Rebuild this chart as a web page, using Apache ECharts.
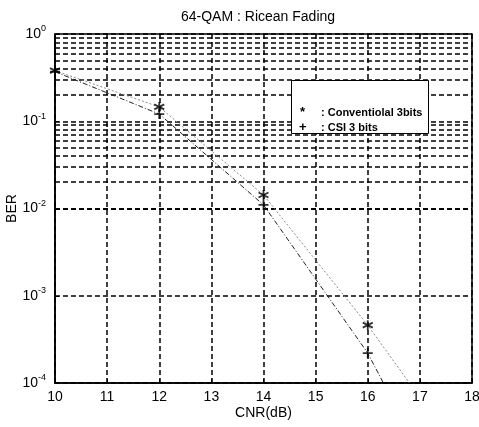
<!DOCTYPE html>
<html>
<head>
<meta charset="utf-8">
<script src="https://cdn.jsdelivr.net/npm/echarts@6/dist/echarts.min.js"></script>
<style>
  html, body { margin: 0; padding: 0; background: #fff; }
  #main { width: 479px; height: 427px; }
</style>
</head>
<body>
<div id="main"></div>
<script>
// simulated points (markers)
var cnr = [10, 12, 14, 16];
var convBer = [0.38, 0.146, 0.0143, 4.6e-4];
var csiBer = [0.37, 0.121, 0.011, 2.2e-4];
// curves (lines run on down to the bottom of the plot)
var convCurveX = [10, 12, 14, 16, 16.8];
var convCurveY = [0.38, 0.146, 0.0143, 4.6e-4, 1e-4];
var csiCurveX = [10, 12, 14, 16, 16.3];
var csiCurveY = [0.37, 0.121, 0.011, 2.2e-4, 1e-4];
// minor grid values inside each decade
var mantissas = [2, 3, 4, 5, 6, 7, 8, 9];
var decades = [1e-4, 1e-3, 1e-2, 1e-1];

function pairs(xs, ys) {
  return xs.map(function (x, i) { return [x, ys[i]]; });
}

var minorLines = [];
decades.forEach(function (d) {
  mantissas.forEach(function (m) { minorLines.push({ yAxis: m * d }); });
});

var starPath = 'path://M5,0L5,10M0.7,2.5L9.3,7.5M9.3,2.5L0.7,7.5';
var plusPath = 'path://M5,0L5,10M0,5L10,5';
var dash = { color: '#000', type: [5, 3], width: 1.5 };
var font = 'Liberation Sans, Arial, sans-serif';

var chart = echarts.init(document.getElementById('main'));
var option = {
  animation: false,
  backgroundColor: '#fff',
  title: {
    text: '64-QAM : Ricean Fading',
    left: 176,
    top: 5,
    textStyle: { fontFamily: font, fontSize: 14, fontWeight: 'normal', color: '#000' }
  },
  grid: {
    left: 55, right: 7, top: 34, bottom: 44,
    outerBoundsMode: 'none',
    containLabel: false,
    show: true, borderColor: '#000', borderWidth: 1.5, backgroundColor: 'transparent'
  },
  xAxis: {
    type: 'value',
    min: 10, max: 18, interval: 1,
    name: 'CNR(dB)',
    nameLocation: 'middle',
    nameGap: 23,
    nameMoveOverlap: false,
    nameTextStyle: { fontFamily: font, fontSize: 14, color: '#000' },
    axisLine: { lineStyle: { color: '#000', width: 1.5 } },
    axisTick: { inside: true, length: 4, lineStyle: { color: '#000' } },
    axisLabel: { fontFamily: font, fontSize: 14, color: '#000', margin: 7, hideOverlap: false },
    splitLine: { show: true, lineStyle: dash }
  },
  yAxis: {
    type: 'log',
    logBase: 10,
    min: 1e-4, max: 1,
    name: 'BER',
    nameLocation: 'middle',
    nameGap: 36,
    nameMoveOverlap: false,
    nameTextStyle: { fontFamily: font, fontSize: 14, color: '#000' },
    axisLine: { show: true, lineStyle: { color: '#000', width: 1.5 } },
    axisTick: { inside: true, length: 4, lineStyle: { color: '#000' } },
    axisLabel: {
      margin: 9,
      formatter: function (v) {
        var e = Math.round(Math.log10(v));
        return '{b|10}{s|' + e + '}';
      },
      rich: {
        b: { fontFamily: font, fontSize: 14, color: '#000' },
        s: { fontFamily: font, fontSize: 9, color: '#000', padding: [0, 0, 10, 0] }
      }
    },
    splitLine: { show: true, lineStyle: dash }
  },
  graphic: [
    { type: 'rect', left: 291, top: 80, shape: { width: 137, height: 53 },
      style: { fill: '#fff', stroke: '#000', lineWidth: 1 }, z: 100 },
    { type: 'text', left: 300, top: 106, z: 101,
      style: { text: '*', font: 'bold 13px ' + font, fill: '#000' } },
    { type: 'text', left: 321, top: 107, z: 101,
      style: { text: ': Conventiolal 3bits', font: 'bold 11px ' + font, fill: '#000' } },
    { type: 'text', left: 299, top: 121, z: 101,
      style: { text: '+', font: 'bold 13px ' + font, fill: '#000' } },
    { type: 'text', left: 321, top: 122, z: 101,
      style: { text: ': CSI 3 bits', font: 'bold 11px ' + font, fill: '#000' } }
  ],
  series: [
    {
      name: 'minor grid',
      type: 'line',
      data: [],
      silent: true,
      markLine: {
        silent: true,
        symbol: ['none', 'none'],
        label: { show: false },
        lineStyle: dash,
        data: minorLines
      }
    },
    {
      name: 'Conventional curve',
      type: 'line',
      data: pairs(convCurveX, convCurveY),
      showSymbol: false,
      lineStyle: { color: '#8a8a8a', width: 1, type: [2, 2] },
      z: 5
    },
    {
      name: 'CSI curve',
      type: 'line',
      data: pairs(csiCurveX, csiCurveY),
      showSymbol: false,
      lineStyle: { color: '#222', width: 1, type: [5, 2, 1, 2] },
      z: 5
    },
    {
      name: 'Conventional',
      type: 'scatter',
      data: pairs(cnr, convBer),
      symbol: starPath,
      symbolSize: 10,
      itemStyle: { color: 'transparent', borderColor: '#000', borderWidth: 1.8 },
      z: 6
    },
    {
      name: 'CSI',
      type: 'scatter',
      data: pairs(cnr, csiBer),
      symbol: plusPath,
      symbolSize: 10,
      itemStyle: { color: 'transparent', borderColor: '#000', borderWidth: 1.8 },
      z: 6
    }
  ]
};
option && chart.setOption(option);
</script>
</body>
</html>
